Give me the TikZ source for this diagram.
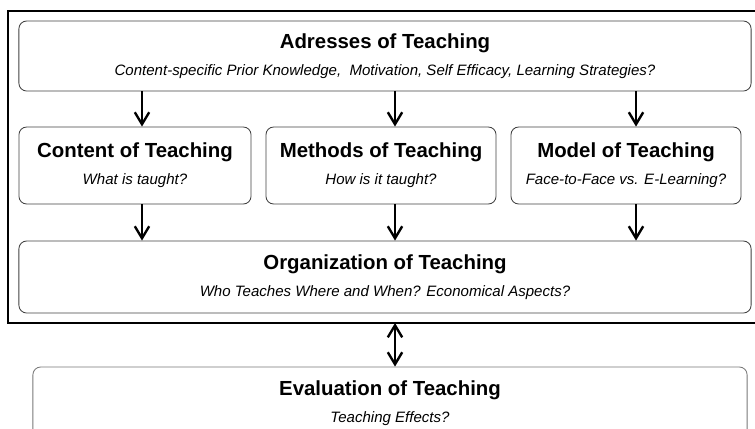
\documentclass[tikz,border=0pt]{standalone}
\usepackage{fontspec}
\setmainfont{Liberation Sans}
\usetikzlibrary{arrows.meta}
\definecolor{boxgray}{RGB}{64,64,64}
\definecolor{evalgray}{RGB}{120,120,120}
\tikzset{box/.style={rectangle,draw=boxgray,semithick,rounded corners=5.5pt,align=center,inner sep=0pt,font=\fontsize{10.7}{13}\selectfont}}
\tikzset{frame/.style={black,line width=1.5pt}}
\tikzset{link/.style={black,line width=1.7pt,-{Straight Barb[length=3mm,width=3.6mm]}}}
\tikzset{linkboth/.style={link,{Straight Barb[length=3mm,width=3.6mm]}-{Straight Barb[length=3mm,width=3.6mm]}}}
\newcommand{\teachtext}[2]{{\fontsize{14.5}{16}\selectfont\bfseries #1}\\[6pt]{\itshape #2}}

\begin{document}
\begin{tikzpicture}[x=0.025cm,y=-0.025cm]
  \useasboundingbox (0,0) rectangle (755,428);
  % Outer frame
  \draw[frame] (8,11) rectangle (760,323);
  \coordinate (framebot) at (395,323);

  % Columns of the arrows
  \coordinate (colA) at (142,0);
  \coordinate (colB) at (395,0);
  \coordinate (colC) at (636,0);

  % Boxes
  \node[box,minimum width=18.3cm,minimum height=1.75cm] (addr) at (385,56)
    {\teachtext{Adresses of Teaching}{Content-specific Prior Knowledge,\ \ Motivation, Self Efficacy, Learning Strategies?}};
  \node[box,minimum width=5.8cm,minimum height=1.925cm] (content) at (135,165.5)
    {\teachtext{Content of Teaching}{What is taught?}};
  \node[box,minimum width=5.75cm,minimum height=1.925cm] (methods) at (381,165.5)
    {\teachtext{Methods of Teaching}{How is it taught?}};
  \node[box,minimum width=5.75cm,minimum height=1.925cm] (model) at (626,165.5)
    {\teachtext{Model of Teaching}{Face-to-Face vs. E-Learning?}};
  \node[box,minimum width=18.3cm,minimum height=1.8cm] (org) at (385,277)
    {\teachtext{Organization of Teaching}{Who Teaches Where and When? Economical Aspects?}};
  \node[box,draw=evalgray,minimum width=17.85cm,minimum height=1.8cm] (eval) at (390,403)
    {\teachtext{Evaluation of Teaching}{Teaching Effects?}};

  % Arrows
  \draw[link] (addr.south -| colA) -- (content.north -| colA);
  \draw[link] (addr.south -| colB) -- (methods.north -| colB);
  \draw[link] (addr.south -| colC) -- (model.north -| colC);
  \draw[link] (content.south -| colA) -- (org.north -| colA);
  \draw[link] (methods.south -| colB) -- (org.north -| colB);
  \draw[link] (model.south -| colC) -- (org.north -| colC);
  \draw[linkboth] (framebot) -- (eval.north -| colB);
\end{tikzpicture}
\end{document}
